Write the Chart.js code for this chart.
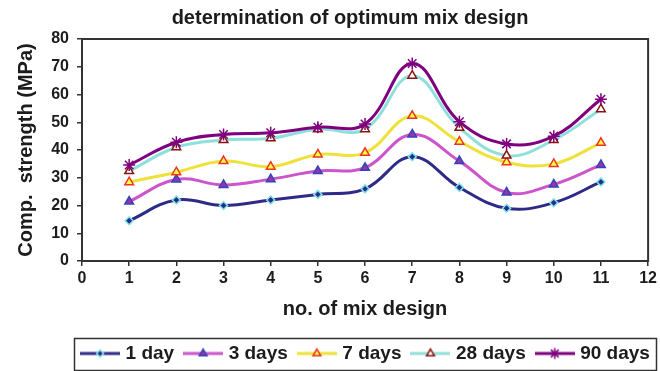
<!DOCTYPE html>
<html><head><meta charset="utf-8">
<script src="https://cdn.jsdelivr.net/npm/chart.js@4.4.1/dist/chart.umd.min.js"></script>
<style>html,body{margin:0;padding:0;background:#fff;}#wrap{width:660px;height:371px;}</style>
</head><body><div id="wrap"><canvas id="c" width="660" height="371"></canvas></div>
<script>
// ---- data ----
const mixDesigns = [1, 2, 3, 4, 5, 6, 7, 8, 9, 10, 11];
const day1   = [14.5, 22.0, 20.0, 22.0, 24.0, 26.0, 37.6, 26.5, 19.0, 21.0, 28.5];
const day3   = [21.4, 29.4, 27.4, 29.5, 32.4, 33.6, 45.6, 36.0, 24.7, 27.6, 34.6];
const day7   = [28.4, 32.0, 36.0, 34.0, 38.4, 39.0, 52.3, 43.0, 35.6, 35.0, 42.6];
const day28  = [32.4, 41.0, 43.6, 44.2, 47.5, 47.5, 66.8, 48.0, 38.0, 43.6, 54.7];
const day90  = [34.6, 42.8, 45.6, 46.2, 48.2, 49.4, 71.2, 50.2, 42.2, 45.0, 58.3];
const seriesLabels = ['1 day', '3 days', '7 days', '28 days', '90 days'];
const seriesValues = [day1, day3, day7, day28, day90];
const chartTitle = 'determination of optimum mix design';
const xAxisTitle = 'no. of mix design';
const yAxisTitle = 'Comp.  strength (MPa)';

// ---- styles ----
const FONT = "'Liberation Sans', Arial, Helvetica, sans-serif";
const TXT = '#1c1c1c';
const lineColors   = ['#2E2A88', '#CC55CC', '#EEE23A', '#8FE0DA', '#7F007F'];
const markerStyles = ['rectRot', 'triangle', 'triangle', 'triangle', 'star'];
const markerFills  = ['#2B2B8C', '#9933AA', '#FFFF44', '#FFFFFF', '#7F007F'];
const markerBorders= ['#7FE5E5', '#3344BB', '#EE3322', '#8B1111', '#7F007F'];
const markerRadii  = [4, 5, 5, 5, 6];

function makeSample(i) {
  const c = document.createElement('canvas');
  c.width = 40; c.height = 14;
  const g = c.getContext('2d');
  g.strokeStyle = lineColors[i]; g.lineWidth = 3;
  g.beginPath(); g.moveTo(0, 7); g.lineTo(40, 7); g.stroke();
  g.fillStyle = markerFills[i]; g.strokeStyle = markerBorders[i]; g.lineWidth = 1.5;
  Chart.helpers.drawPoint(g, {pointStyle: markerStyles[i], radius: markerRadii[i] - 0.5, borderWidth: 1.5, rotation: 0}, 20, 7);
  return c;
}

const datasets = seriesLabels.map((lab, i) => ({
  label: lab,
  data: mixDesigns.map((x, j) => ({x: x, y: seriesValues[i][j]})),
  borderColor: lineColors[i],
  borderWidth: 3,
  tension: 0.4,
  pointStyle: markerStyles[i],
  pointRadius: markerRadii[i],
  pointBackgroundColor: markerFills[i],
  pointBorderColor: markerBorders[i],
  pointBorderWidth: 1.5,
  fill: false,
  order: seriesLabels.length - 1 - i
}));

const LEG_PAD = 13;
const framePlugin = {
  id: 'frame',
  afterLayout(chart) {
    const t = chart.titleBlock;
    if (t) { t.left += 20; t.right += 20; }
    const l = chart.legend;
    if (l) { l.left += 37; l.right += 37; l.top += 2; l.bottom += 2; }
  },
  beforeDatasetsDraw(chart) {
    const a = chart.chartArea, ctx = chart.ctx;
    ctx.save();
    ctx.strokeStyle = '#333'; ctx.lineWidth = 2;
    ctx.strokeRect(a.left, a.top, a.right - a.left, a.bottom - a.top);
    ctx.restore();
  },
  afterDraw(chart) {
    const l = chart.legend; if (!l || !l.lineWidths) return;
    const ctx = chart.ctx;
    const cx = (l.left + l.right) / 2;
    const w = l.lineWidths[0] - LEG_PAD;
    const cy = l.top + LEG_PAD + 9.5;
    ctx.save();
    ctx.strokeStyle = '#333'; ctx.lineWidth = 1.5;
    ctx.strokeRect(Math.round(cx - w / 2 - 10) + 0.5, Math.round(cy - 16) + 0.5, Math.round(w + 16), 32);
    ctx.restore();
  }
};

new Chart(document.getElementById('c'), {
  type: 'line',
  data: {datasets: datasets},
  plugins: [framePlugin],
  options: {
    responsive: false,
    animation: false,
    events: [],
    layout: {padding: {left: 0, right: 0, top: 0, bottom: 0}},
    plugins: {
      tooltip: {enabled: false},
      title: {
        display: true, text: chartTitle, color: TXT,
        font: {family: FONT, size: 20, weight: 'bold', lineHeight: 1.2},
        padding: {top: 6, bottom: 9}
      },
      legend: {
        position: 'bottom',
        labels: {
          usePointStyle: true,
          pointStyleWidth: 32,
          padding: LEG_PAD,
          color: TXT,
          font: {family: FONT, size: 19, weight: 'bold'},
          generateLabels: (chart) => seriesLabels.map((lab, i) => ({
            text: lab, datasetIndex: i, hidden: false,
            pointStyle: makeSample(i), fontColor: TXT,
            fillStyle: 'rgba(0,0,0,0)', strokeStyle: 'rgba(0,0,0,0)', lineWidth: 0
          }))
        }
      }
    },
    scales: {
      x: {
        type: 'linear', min: 0, max: 12,
        afterFit: (s) => { s.height = 68; },
        border: {display: false},
        grid: {drawOnChartArea: false, drawTicks: true, tickLength: 5, color: '#333', lineWidth: 1.5},
        ticks: {stepSize: 1, color: TXT, padding: 3, font: {family: FONT, size: 16, weight: 'bold'}},
        title: {display: true, text: xAxisTitle, color: TXT, padding: {top: 0, bottom: 8},
                font: {family: FONT, size: 20, weight: 'bold', lineHeight: 1.2}}
      },
      y: {
        min: 0, max: 80,
        afterFit: (s) => { s.width = 82; },
        border: {display: false},
        grid: {drawOnChartArea: false, drawTicks: true, tickLength: 5, color: '#333', lineWidth: 1.5},
        ticks: {stepSize: 10, color: TXT, padding: 8, font: {family: FONT, size: 16, weight: 'bold'}},
        title: {display: true, text: yAxisTitle, color: TXT, padding: {top: 14, bottom: 0},
                font: {family: FONT, size: 20, weight: 'bold', lineHeight: 1.2}}
      }
    }
  }
});
</script></body></html>
